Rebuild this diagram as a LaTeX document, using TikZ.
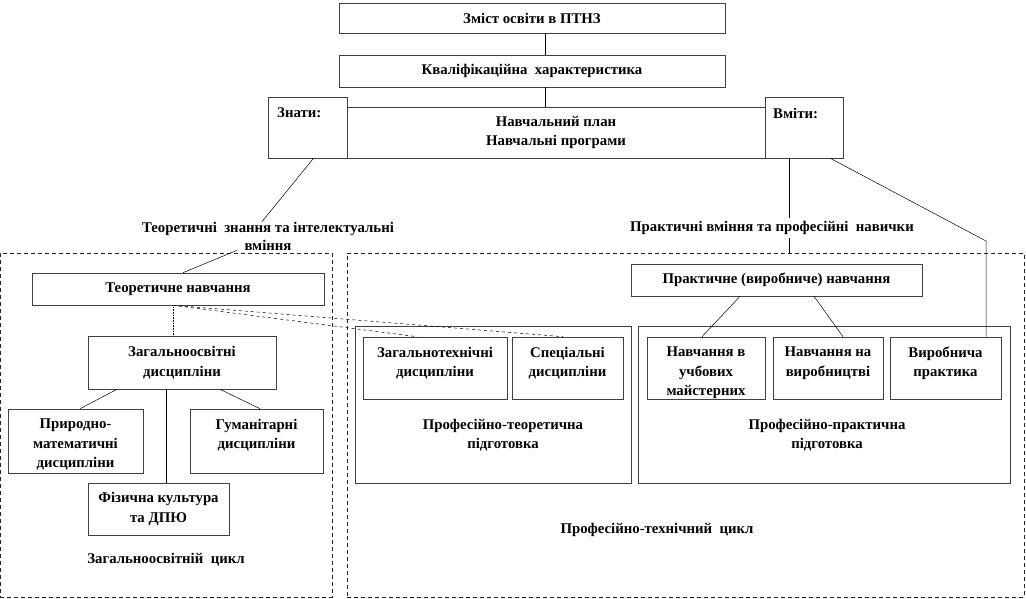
\documentclass[tikz,border=0pt]{standalone}
\usepackage{fontspec}
\setmainfont{Liberation Serif}
\begin{document}
\begin{tikzpicture}[x=1pt,y=-1pt,
  box/.style={draw=black!75, line width=0.6pt, fill=white, inner sep=0pt},
  txt/.style={font=\fontsize{14.8}{19.5}\selectfont\bfseries, align=center, inner sep=0pt},
  con/.style={draw=black, line width=0.5pt},
  dotcon/.style={draw=black, line width=0.6pt, densely dotted},
  region/.style={draw=black!85, line width=0.6pt, dash pattern=on 4pt off 3pt, inner sep=0pt}]
\useasboundingbox (0,0) rectangle (1026,599);

% regions
\node[region, minimum width=332pt, minimum height=344pt] (lreg) at (166,425) {};
\node[region, minimum width=677pt, minimum height=344pt] (rreg) at (685.5,425) {};

% top boxes
\node[box, txt, minimum width=386pt, minimum height=30pt] (zmist) at (532,18) {Зміст освіти в ПТНЗ};
\node[box, txt, minimum width=386pt, minimum height=32pt] (kval) at (532,71) {Кваліфікаційна\ \ характеристика};
\node[box, minimum width=79pt, minimum height=61pt] (znaty) at (307.5,127.5) {};
\node[box, minimum width=78pt, minimum height=61pt] (vmity) at (804,127.5) {};
\node[box, txt, minimum width=418pt, minimum height=51pt] (plan) at (556,132.5) {Навчальний план\\Навчальні програми};
\node[txt, anchor=west] (znatyl) at (277,113) {Знати:};
\node[txt, anchor=west] (vmityl) at (773,113) {Вміти:};

% middle texts
\node[txt, fill=white, font=\fontsize{14.8}{18}\selectfont\bfseries] (teortxt) at (268,236) {Теоретичні\ \ знання та інтелектуальні\\вміння};
\node[txt, fill=white, inner ysep=3pt] (prakttxt) at (772,228) {Практичні вміння та професійні\ \ навички};

% left part
\node[box, txt, minimum width=292pt, minimum height=32pt] (teornav) at (178,289) {Теоретичне навчання};
\node[box, minimum width=188pt, minimum height=53pt] (zagos) at (182,362.5) {};
\node[txt] at (zagos) {Загальноосвітні\\дисципліни};
\node[box, minimum width=135pt, minimum height=64pt] (pryr) at (75.5,441) {};
\node[txt, anchor=north] at ([yshift=-10pt]pryr.north) {Природно-\\математичні\\дисципліни};
\node[box, minimum width=133pt, minimum height=64pt] (gum) at (256.5,441) {};
\node[txt, anchor=north] at ([yshift=-10pt]gum.north) {Гуманітарні\\дисципліни};
\node[box, minimum width=141pt, minimum height=52pt] (fiz) at (158.5,509) {};
\node[txt] at (fiz) {Фізична культура\\та ДПЮ};
\node[txt] (zagcycl) at (166,560) {Загальноосвітній\ \ цикл};

% practical training
\node[box, txt, minimum width=291pt, minimum height=32pt] (praktnav) at (776.5,280) {Практичне (виробниче) навчання};

% professional-theoretical
\node[box, minimum width=276pt, minimum height=157pt] (proft) at (493,404.5) {};
\node[txt] at (503,435) {Професійно-теоретична\\підготовка};
\node[box, minimum width=144pt, minimum height=62pt] (zagtech) at (435,368) {};
\node[txt, anchor=north] at ([yshift=-10pt]zagtech.north) {Загальнотехнічні\\дисципліни};
\node[box, minimum width=111pt, minimum height=62pt] (spec) at (567.5,368) {};
\node[txt, anchor=north] at ([yshift=-10pt]spec.north) {Спеціальні\\дисципліни};

% professional-practical
\node[box, minimum width=372pt, minimum height=157pt] (profp) at (824,404.5) {};
\node[txt] at (827,435) {Професійно-практична\\підготовка};
\node[box, minimum width=118pt, minimum height=62pt] (navmaist) at (706,368) {};
\node[txt, anchor=north] at ([yshift=-10pt]navmaist.north) {Навчання в\\учбових\\майстерних};
\node[box, minimum width=110pt, minimum height=62pt] (navvyr) at (828,368) {};
\node[txt, anchor=north] at ([yshift=-10pt]navvyr.north) {Навчання на\\виробництві};
\node[box, minimum width=111pt, minimum height=62pt] (vyrprak) at (945.5,368) {};
\node[txt, anchor=north] at ([yshift=-10pt]vyrprak.north) {Виробнича\\практика};

\node[txt] (proftech) at (657,530) {Професійно-технічний\ \ цикл};

% connectors
\coordinate (vline) at (789,0);
\coordinate (bend) at (986,241);
\draw[con] ([xshift=13pt]zmist.south) -- ([xshift=13pt]kval.north);
\draw[con] ([xshift=13pt]kval.south) -- ([xshift=-11pt]plan.north);
\draw[con] ([xshift=6pt]znaty.south) -- ([xshift=-6pt]teortxt.north);
\draw[con] ([xshift=-31pt]teortxt.south) -- ([xshift=5pt]teornav.north);
\draw[con] ([xshift=-15pt]vmity.south) -- (vline |- prakttxt.north);
\draw[con] (vline |- prakttxt.south) -- (vline |- rreg.north);
\draw[con] ([xshift=-13pt]vmity.south east) -- (bend) -- (bend |- vyrprak.north);
\draw[con] ([xshift=-36.5pt]praktnav.south) -- ([xshift=-4pt]navmaist.north);
\draw[con] ([xshift=37.5pt]praktnav.south) -- ([xshift=15pt]navvyr.north);
\draw[dotcon] ([xshift=-5pt]teornav.south) -- ([xshift=-9pt]zagos.north);
\draw[con, dashed] ([xshift=-5pt]teornav.south) -- ([xshift=-18pt]zagtech.north);
\draw[con, dashed] ([xshift=-5pt]teornav.south) -- ([xshift=-4.5pt]spec.north);
\draw[con] ([xshift=-65pt]zagos.south) -- ([xshift=4.5pt]pryr.north);
\draw[con] ([xshift=38pt]zagos.south) -- ([xshift=3.5pt]gum.north);
\draw[con] ([xshift=-16pt]zagos.south) -- ([xshift=7.5pt]fiz.north);
\end{tikzpicture}
\end{document}
